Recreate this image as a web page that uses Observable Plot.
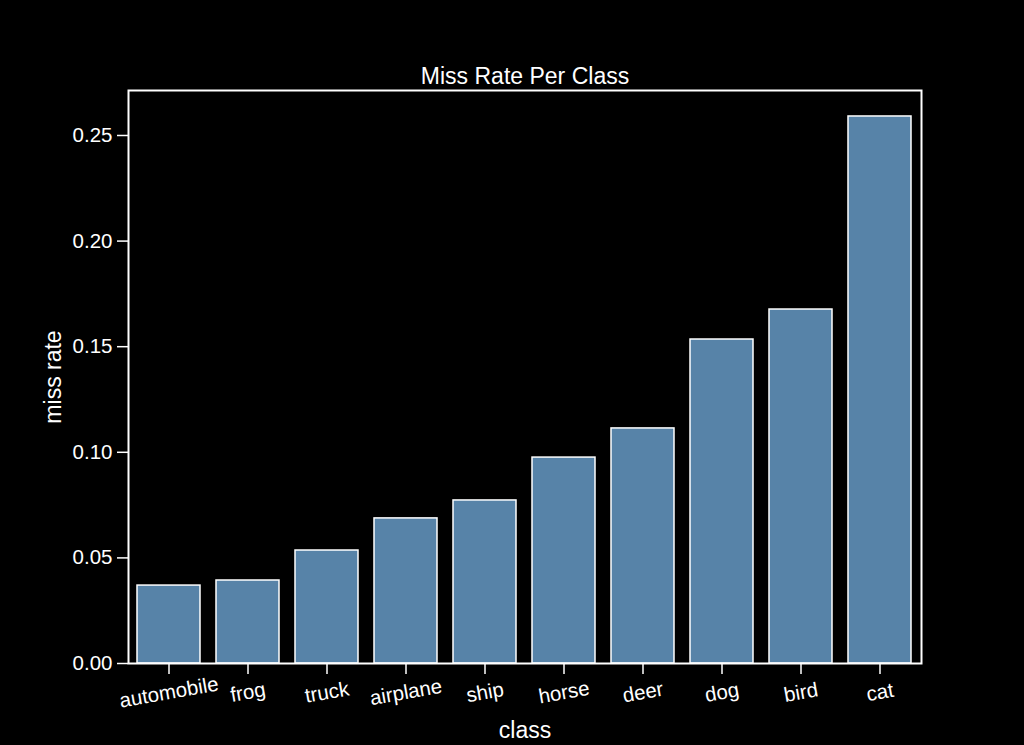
<!DOCTYPE html>
<html>
<head>
<meta charset="utf-8">
<script src="https://cdn.jsdelivr.net/npm/d3@7"></script>
<script src="https://cdn.jsdelivr.net/npm/@observablehq/plot@0.6"></script>
<style>
  html, body { margin: 0; padding: 0; background: #000; }
  body { width: 1024px; height: 745px; overflow: hidden; }
  svg { display: block; }
</style>
</head>
<body>
<div id="chart"></div>
<script>
const categories = ["automobile", "frog", "truck", "airplane", "ship", "horse", "deer", "dog", "bird", "cat"];
const missRate = [0.0369, 0.0393, 0.0535, 0.0687, 0.0772, 0.0975, 0.1113, 0.1534, 0.1676, 0.2590];
const yTicks = [0, 0.05, 0.10, 0.15, 0.20, 0.25];
const titleText = "Miss Rate Per Class";
const xLabel = "class";
const yLabel = "miss rate";

const data = categories.map((c, i) => ({cls: c, rate: missRate[i]}));
const font = "Liberation Sans, Arial, Helvetica, sans-serif";

const chart = Plot.plot({
  width: 1024,
  height: 745,
  marginLeft: 128,
  marginRight: 103,
  marginTop: 90,
  marginBottom: 82,
  style: {background: "#000", color: "#fff", fontFamily: font, fontSize: "20px"},
  x: {domain: categories, paddingInner: 0.2, paddingOuter: 0.1, label: null},
  y: {domain: [0, 0.2713], label: null},
  marks: [
    Plot.barY(data, {x: "cls", y: "rate", fill: "#5783a8", stroke: "#fff", strokeWidth: 1.5}),
    Plot.frame({stroke: "#fff", strokeWidth: 2}),
    Plot.axisY({ticks: yTicks, tickFormat: d3.format(".2f"), tickSize: 11, tickPadding: 5, fontSize: 20.5, label: null, stroke: "#fff", strokeWidth: 1.5}),
    Plot.axisX({tickSize: 11, tickFormat: () => "", label: null, stroke: "#fff", strokeWidth: 1.5}),
    Plot.text(categories, {x: d => d, frameAnchor: "bottom", dy: 29, rotate: -10, textAnchor: "middle", lineAnchor: "middle", fill: "#fff", fontSize: 20.5}),
    Plot.text([titleText], {frameAnchor: "top", textAnchor: "middle", lineAnchor: "bottom", dy: -7, fill: "#fff", fontSize: 23}),
    Plot.text([xLabel], {frameAnchor: "bottom", textAnchor: "middle", lineAnchor: "middle", dy: 67, fill: "#fff", fontSize: 23}),
    Plot.text([yLabel], {frameAnchor: "left", textAnchor: "middle", lineAnchor: "middle", dx: -75, rotate: -90, fill: "#fff", fontSize: 23})
  ]
});
document.getElementById("chart").appendChild(chart);
</script>
</body>
</html>
